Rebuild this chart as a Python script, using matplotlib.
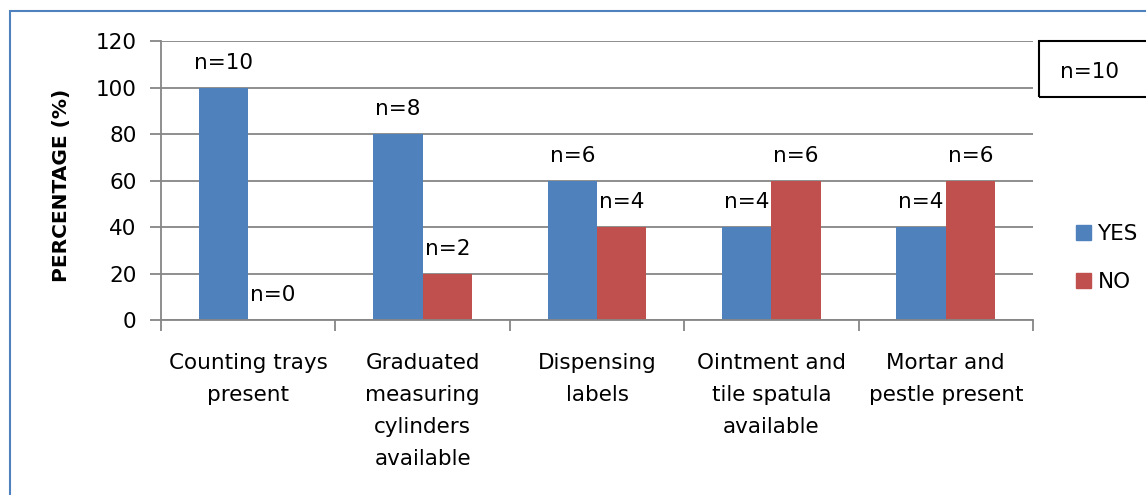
import numpy as np
import matplotlib
matplotlib.use('Agg')
import matplotlib.pyplot as plt
from matplotlib.patches import Rectangle, Patch

# ---- data ----
categories = ['Counting trays\npresent',
              'Graduated\nmeasuring\ncylinders\navailable',
              'Dispensing\nlabels',
              'Ointment and\ntile spatula\navailable',
              'Mortar and\npestle present']
yes_pct = [100, 80, 60, 40, 40]
no_pct  = [0, 20, 40, 60, 60]
yes_n   = [10, 8, 6, 4, 4]
no_n    = [0, 2, 4, 6, 6]
y_ticks = [0, 20, 40, 60, 80, 100, 120]
series  = ['YES', 'NO']
total_n = 10

BLUE, RED, GREY = '#4F81BD', '#C0504D', '#868686'
W, H = 1146, 495
FS = 15.5

plt.rcParams['font.family'] = ['DejaVu Sans']
fig = plt.figure(figsize=(W/100, H/100), dpi=100)
ax = fig.add_axes([161/W, 175/H, 872/W, 279/H])

x = np.arange(len(categories))
bw = 0.283
ax.bar(x - bw/2, yes_pct, bw, color=BLUE, label=series[0])
ax.bar(x + bw/2, no_pct, bw, color=RED, label=series[1])

# n= labels above every bar
for xs, vals, ns in ((x - bw/2, yes_pct, yes_n), (x + bw/2, no_pct, no_n)):
    for xi, v, n in zip(xs, vals, ns):
        ax.annotate(f'n={n}', (xi, v), xytext=(0, 13.5), textcoords='offset points',
                    ha='center', va='baseline', fontsize=FS)

ax.set_xlim(-0.5, len(categories) - 0.5)
ax.set_ylim(y_ticks[0], y_ticks[-1])
ax.set_yticks(y_ticks)
ax.yaxis.grid(True, color=GREY, lw=1.3)
ax.set_axisbelow(True)
for s in ('top', 'right'):
    ax.spines[s].set_visible(False)
for s in ('left', 'bottom'):
    ax.spines[s].set_color(GREY)
    ax.spines[s].set_linewidth(1.3)

# category boundaries as ticks, names as minor labels in the middle
ax.set_xticks(np.arange(-0.5, len(categories)), labels=[])
ax.set_xticks(x, labels=categories, minor=True)
ax.tick_params(axis='x', which='major', length=8, width=1.3, color=GREY)
ax.tick_params(axis='x', which='minor', length=0, pad=24, labelsize=FS)
for t in ax.get_xticklabels(minor=True):
    t.set_linespacing(1.74)
ax.tick_params(axis='y', length=8, width=1.3, color=GREY, pad=9.5, labelsize=FS)

fig.text(62/W, 1 - 185.5/H, 'PERCENTAGE (%)', rotation=90, weight='bold',
         fontsize=14.5, ha='center', va='center')

handles = [Patch(color=BLUE), Patch(color=RED)]
fig.legend(handles, series, loc='center left', bbox_to_anchor=(1076/W, 1 - 257.75/H),
           bbox_transform=fig.transFigure, frameon=False, fontsize=FS,
           borderpad=0, borderaxespad=0, handlelength=0.7, handleheight=0.7,
           handletextpad=0.3, labelspacing=1.3)

# sample size box, top right (runs off the edge)
fig.patches.append(Rectangle((1039/W, 1 - 96.7/H), 0.2, 56/H, transform=fig.transFigure,
                             fill=False, ec='black', lw=1.5))
fig.text(1090/W, 1 - 71.7/H, f'n={total_n}', ha='center', va='center', fontsize=FS)

# chart area border
fig.patches.append(Rectangle((10/W, -0.1), 1.2, 1.1 - 11/H, transform=fig.transFigure,
                             fill=False, ec=BLUE, lw=1.5))

fig.savefig('out.png', dpi=100)
